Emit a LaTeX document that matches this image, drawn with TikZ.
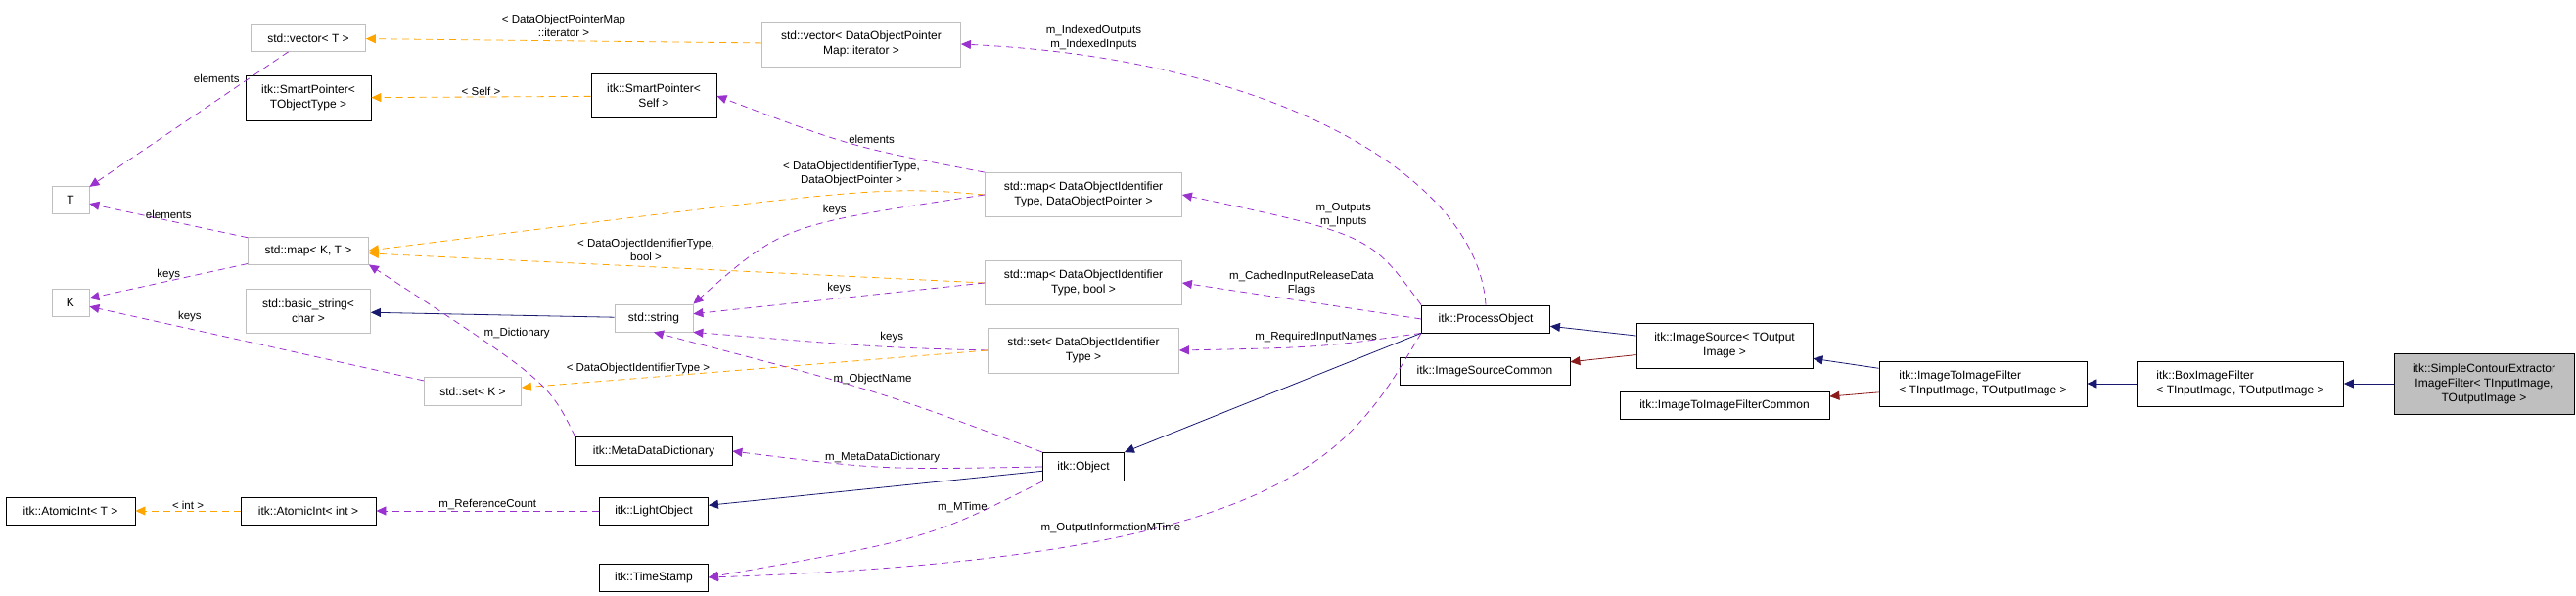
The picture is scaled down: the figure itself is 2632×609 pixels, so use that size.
\documentclass[tikz,border=0pt]{standalone}
\usepackage{fontspec}
\setmainfont{Liberation Sans}
\usetikzlibrary{arrows.meta}
\definecolor{navy}{RGB}{25,25,112}
\definecolor{dred}{RGB}{139,26,26}
\definecolor{purp}{RGB}{154,50,205}
\definecolor{oran}{RGB}{255,165,0}
\tikzstyle{cls} = [rectangle, draw=black, thick, align=center, inner sep=1pt, font=\fontsize{12}{15}\selectfont]
\tikzstyle{ext} = [cls, draw=black!25]
\tikzstyle{inh} = [draw=navy, thick, -{Triangle[length=10pt,width=9pt]}]
\tikzstyle{prv} = [draw=dred, thick, -{Triangle[length=10pt,width=9pt]}]
\tikzstyle{use} = [draw=purp, thick, dash pattern=on 7pt off 5pt, -{Triangle[length=10pt,width=9pt]}]
\tikzstyle{tpl} = [draw=oran, thick, dash pattern=on 7pt off 5pt, -{Triangle[length=10pt,width=9pt]}]
\tikzstyle{lbl} = [align=center, font=\fontsize{11.5}{14}\selectfont, inner sep=1pt]
\begin{document}
\begin{tikzpicture}[x=1pt, y=-1pt]
            \useasboundingbox (0,0) rectangle (2632,609);
            \node (vecT) [ext, minimum width=117, minimum height=27] at (315,39) {std::vector< T >};
            \node (spT) [cls, minimum width=128, minimum height=46] at (315,100) {itk::SmartPointer<\\TObjectType >};
            \node (spS) [cls, minimum width=128, minimum height=45] at (668,98) {itk::SmartPointer<\\Self >};
            \node (vecIt) [ext, minimum width=203, minimum height=46] at (880,45) {std::vector< DataObjectPointer\\Map::iterator >};
            \node (T) [ext, minimum width=38, minimum height=28] at (72,204) {T};
            \node (K) [ext, minimum width=38, minimum height=28] at (72,309) {K};
            \node (mapKT) [ext, minimum width=123, minimum height=28] at (315,256) {std::map< K, T >};
            \node (bstr) [ext, minimum width=127, minimum height=45] at (315,318) {std::basic\_string<\\char >};
            \node (str) [ext, minimum width=80, minimum height=28] at (668,325) {std::string};
            \node (setK) [ext, minimum width=99, minimum height=29] at (483,400) {std::set< K >};
            \node (mdd) [cls, minimum width=160, minimum height=29] at (668,461) {itk::MetaDataDictionary};
            \node (aiT) [cls, minimum width=132, minimum height=28] at (72,522) {itk::AtomicInt< T >};
            \node (aiInt) [cls, minimum width=138, minimum height=28] at (315,522) {itk::AtomicInt< int >};
            \node (lobj) [cls, minimum width=111, minimum height=28] at (668,522) {itk::LightObject};
            \node (ts) [cls, minimum width=111, minimum height=28] at (668,590) {itk::TimeStamp};
            \node (mapP) [ext, minimum width=201, minimum height=45] at (1107,199) {std::map< DataObjectIdentifier\\Type, DataObjectPointer >};
            \node (mapB) [ext, minimum width=201, minimum height=45] at (1107,289) {std::map< DataObjectIdentifier\\Type, bool >};
            \node (setD) [ext, minimum width=195, minimum height=46] at (1107,358) {std::set< DataObjectIdentifier\\Type >};
            \node (obj) [cls, minimum width=83, minimum height=29] at (1107,477) {itk::Object};
            \node (po) [cls, minimum width=131, minimum height=28] at (1518,326) {itk::ProcessObject};
            \node (isc) [cls, minimum width=174, minimum height=28] at (1517,379) {itk::ImageSourceCommon};
            \node (is) [cls, minimum width=180, minimum height=46] at (1762,353) {itk::ImageSource< TOutput\\Image >};
            \node (itic) [cls, minimum width=214, minimum height=28] at (1762,414) {itk::ImageToImageFilterCommon};
            \node (itif) [cls, minimum width=212, minimum height=46, align=left] at (2026,392) {itk::ImageToImageFilter\\< TInputImage, TOutputImage >};
            \node (box) [cls, minimum width=211, minimum height=46, align=left] at (2289,392) {itk::BoxImageFilter\\< TInputImage, TOutputImage >};
            \node (sce) [cls, fill=black!25, minimum width=184, minimum height=62] at (2538,392) {itk::SimpleContourExtractor\\ImageFilter< TInputImage,\\TOutputImage >};

            \draw [tpl] (vecIt) -- node[lbl, above=3pt] {< DataObjectPointerMap\\::iterator >} (vecT);
            \draw [tpl] (spS) -- node[lbl, above] {< Self >} (spT);
            \draw [use] (vecT) -- node[lbl, pos=0.2, left=8pt] {elements} (T);
            \draw [use] (mapKT) -- node[lbl, above] {elements} (T);
            \draw [use] (mapKT) -- node[lbl, above] {keys} (K);
            \draw [use] (setK) -- node[lbl, pos=0.7, above=6pt] {keys} (K);
            \draw [tpl] (mapP.west) .. controls (900,190) .. node[lbl, above=6pt, pos=0.45] {< DataObjectIdentifierType,\\DataObjectPointer >} (mapKT.east);
            \draw [tpl] (mapB.west) -- node[lbl, above=4pt, pos=0.55] {< DataObjectIdentifierType,\\bool >} (mapKT);
            \draw [inh] (str) -- (bstr);
            \draw [use] (mapP.west) .. controls (800,230) .. node[lbl, pos=0.35, above=4pt] {keys} (str.north east);
            \draw [use] (mapB.west) -- node[lbl, above=4pt] {keys} (str);
            \draw [use] (setD.west) .. controls (900,355) .. node[lbl, pos=0.4, above=3pt] {keys} (str.south east);
            \draw [tpl] (setD.west) -- node[lbl, pos=0.75, above=3pt] {< DataObjectIdentifierType >} (setK);
            \draw [use] (mdd.north west) .. controls (560,390) .. node[lbl, pos=0.75, right=10pt] {m\_Dictionary} (mapKT.south east);
            \draw [use] (obj.north west) .. controls (900,400) .. node[lbl, pos=0.5, above=6pt] {m\_ObjectName} (str.south);
            \draw [use] (obj.west) .. controls (900,480) .. node[lbl, above=3pt] {m\_MetaDataDictionary} (mdd.east);
            \draw [inh] (obj) -- (lobj);
            \draw [use] (obj.south west) .. controls (950,550) .. node[lbl, pos=0.3, above=6pt] {m\_MTime} (ts.east);
            \draw [use] (lobj) -- node[lbl, above] {m\_ReferenceCount} (aiInt);
            \draw [tpl] (aiInt) -- node[lbl, above] {< int >} (aiT);
            \draw [use] (mapP.north west) .. controls (870,150) .. node[lbl, pos=0.4, above=4pt] {elements} (spS.east);
            \draw [use] (po.north) .. controls (1510,180) and (1300,60) .. node[lbl, pos=0.85, above=6pt] {m\_IndexedOutputs\\m\_IndexedInputs} (vecIt.east);
            \draw [use] (po.north west) .. controls (1400,240) .. node[lbl, pos=0.55, above=6pt] {m\_Outputs\\m\_Inputs} (mapP.east);
            \draw [use] (po.west) -- node[lbl, above=4pt] {m\_CachedInputReleaseData\\Flags} (mapB.east);
            \draw [use] (po.south west) .. controls (1350,355) .. node[lbl, above=2pt] {m\_RequiredInputNames} (setD.east);
            \draw [use] (po.south west) .. controls (1380,460) and (1330,570) .. node[lbl, pos=0.7, above=4pt] {m\_OutputInformationMTime} (ts.east);
            \draw [inh] (po.south west) -- (obj.north east);
            \draw [inh] (is) -- (po);
            \draw [prv] (is) -- (isc);
            \draw [inh] (itif) -- (is);
            \draw [prv] (itif) -- (itic);
            \draw [inh] (box) -- (itif);
            \draw [inh] (sce) -- (box);
        \end{tikzpicture}
\end{document}
